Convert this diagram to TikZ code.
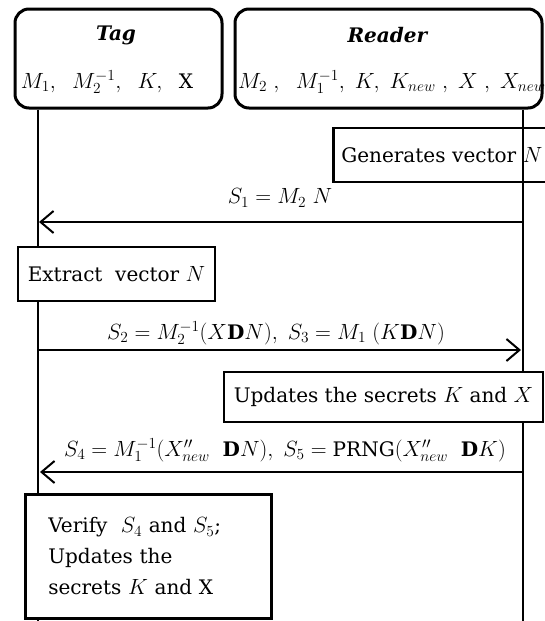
\documentclass[tikz,border=0pt]{standalone}
\usepackage{fix-cm}
\usepackage{fontspec}
\setmainfont{DejaVu Serif}[Scale=0.91]
\usetikzlibrary{arrows.meta}
\begin{document}
\begin{tikzpicture}[x=1pt,y=-1pt,
  every node/.style={font=\fontsize{22}{26}\selectfont},
  actor/.style={draw,line width=3pt,rounded corners=14pt,minimum width=#1,minimum height=99pt,inner sep=0pt},
  procbox/.style={draw,line width=2.6pt,fill=white,inner sep=0pt},
  lifeline/.style={line width=2.6pt},
  msg/.style={line width=2pt,-{Straight Barb[length=13pt,width=22pt,line width=2pt]}},
  lbl/.style={inner sep=0pt}]
\useasboundingbox (0,0) rectangle (545,621);
% actors
\node[actor=207pt] (tag) at (118.5,58.5) {};
\node[actor=307pt] (reader) at (388.5,58.5) {};
\node[lbl] (tagtitle) at (116,35) {\textbf{\textit{Tag}}};
\node[lbl] (tagvars) at (107,82) {$M_1,\ \ M_2^{-1},\ \ K,\ \ \mathrm{X}$};
\node[lbl] (readertitle) at (388,35) {\textbf{\textit{Reader}}};
\node[lbl,anchor=west] (readervars) at (238,82) {$M_2\ ,\ \ M_1^{-1},\ K,\ K_{new}\ ,\ X\ ,\ X_{new}$};
% generates box (under lifeline)
\node[procbox,anchor=west,minimum width=220pt,minimum height=54pt,text width=204pt,inner xsep=8pt,align=left] (gen) at (332,155) {Generates vector $N$};
% lifelines
\coordinate (tagend) at (38,621);
\coordinate (readerend) at (523,621);
\draw[lifeline] (tag.south -| tagend) -- (tagend);
\draw[lifeline] (reader.south -| readerend) -- (readerend);
% messages
\coordinate (r1) at (523,222);
\coordinate (t1) at (39,222);
\draw[msg] (r1) -- (t1);
\node[lbl] (s1) at (280,198) {$S_1 = M_2\ N$};
\node[procbox,minimum width=197pt,minimum height=54pt] (extract) at (116.5,274) {Extract\ \ vector $N$};
\coordinate (t2) at (38,350);
\coordinate (r2) at (521,350);
\draw[msg] (t2) -- (r2);
\node[lbl] (s2) at (276,333) {$S_2 = M_2^{-1}(X\mathbf{D}N),\ S_3 = M_1\ (K\mathbf{D}N)$};
\node[procbox,minimum width=319pt,minimum height=50pt] (upd) at (383.5,397) {Updates the secrets $K$ and $X$};
\coordinate (r3) at (523,472);
\coordinate (t3) at (40,472);
\draw[msg] (r3) -- (t3);
\node[lbl] (s4) at (285,450) {$S_4 = M_1^{-1}(X''_{new}\ \ \mathbf{D}N),\ S_5 = \mathrm{PRNG}(X''_{new}\ \ \mathbf{D}K)$};
\node[procbox,anchor=north west,minimum width=246pt,minimum height=124pt,text width=200pt,inner xsep=23pt,inner ysep=19pt,align=left,font=\fontsize{22}{31}\selectfont] (verify) at (24,493) {Verify\ \ $S_4$ and $S_5$;\\Updates the\\secrets $K$ and $\mathrm{X}$};
\end{tikzpicture}
\end{document}
